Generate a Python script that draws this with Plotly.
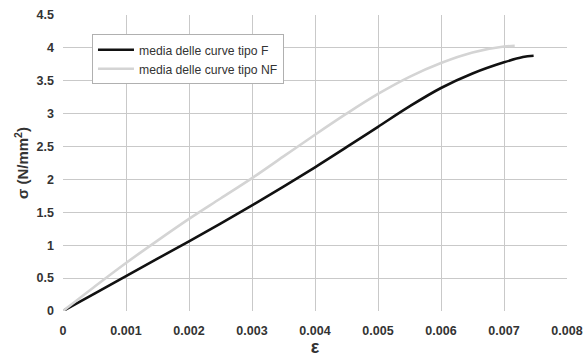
import plotly.graph_objects as go

# Data
eps_F = [0, 0.0005, 0.001, 0.0015, 0.002, 0.0025, 0.003, 0.0035, 0.004, 0.0045,
         0.005, 0.0055, 0.006, 0.0065, 0.007, 0.0073, 0.00747]
sig_F = [0, 0.265, 0.53, 0.795, 1.06, 1.33, 1.605, 1.89, 2.185, 2.49,
         2.80, 3.11, 3.39, 3.61, 3.78, 3.86, 3.88]

eps_NF = [0, 0.0005, 0.001, 0.0015, 0.002, 0.0025, 0.003, 0.0035, 0.004, 0.0045,
          0.005, 0.0055, 0.006, 0.0065, 0.007, 0.00717]
sig_NF = [0, 0.37, 0.73, 1.07, 1.40, 1.71, 2.02, 2.35, 2.68, 3.00,
          3.30, 3.56, 3.77, 3.93, 4.02, 4.03]

name_F = "media delle curve tipo F"
name_NF = "media delle curve tipo NF"

x_ticks = [0, 0.001, 0.002, 0.003, 0.004, 0.005, 0.006, 0.007, 0.008]
x_tick_labels = ["0", "0.001", "0.002", "0.003", "0.004", "0.005", "0.006", "0.007", "0.008"]
y_ticks = [0, 0.5, 1, 1.5, 2, 2.5, 3, 3.5, 4, 4.5]
y_tick_labels = ["0", "0.5", "1", "1.5", "2", "2.5", "3", "3.5", "4", "4.5"]

fig = go.Figure()
fig.add_trace(go.Scatter(x=eps_F, y=sig_F, mode="lines", name=name_F,
                         line=dict(color="#111111", width=2.6, shape="spline", smoothing=1.0)))
fig.add_trace(go.Scatter(x=eps_NF, y=sig_NF, mode="lines", name=name_NF,
                         line=dict(color="#d4d4d4", width=2.6, shape="spline", smoothing=1.0)))

grid = "#c9c9c9"
tickfont = dict(family="Liberation Sans, Arial, sans-serif", size=12.5, color="#333333")

fig.update_layout(
    width=585, height=358,
    margin=dict(l=63, r=18, t=15, b=47),
    paper_bgcolor="white", plot_bgcolor="white",
    font=dict(family="Liberation Sans, Arial, sans-serif", color="#333333"),
    showlegend=True,
    legend=dict(x=0.0575, y=0.935, xanchor="left", yanchor="top",
                bordercolor="#b0b0b0", borderwidth=1, bgcolor="white",
                font=dict(size=12.2, color="#333333"),
                tracegroupgap=0, itemwidth=36),
    xaxis=dict(range=[0, 0.008], tickmode="array", tickvals=x_ticks,
               ticktext=[f"<b>{t}</b>" for t in x_tick_labels],
               showgrid=True, gridcolor=grid, gridwidth=1, zeroline=False,
               showline=False, ticks="", tickfont=tickfont, ticklabelstandoff=10,
               automargin=False,
               title=dict(text="<b>ε</b>", font=dict(size=18, color="#333333"), standoff=0)),
    yaxis=dict(range=[0, 4.5], tickmode="array", tickvals=y_ticks,
               ticktext=[f"<b>{t}</b>" for t in y_tick_labels],
               showgrid=True, gridcolor=grid, gridwidth=1, zeroline=False,
               showline=False, ticks="", tickfont=tickfont, ticklabelstandoff=8,
               automargin=False,
               title=dict(text="<b>σ (N/mm<sup>2</sup>)</b>", font=dict(size=15, color="#333333"), standoff=4)),
)

fig.write_html("out.html")
